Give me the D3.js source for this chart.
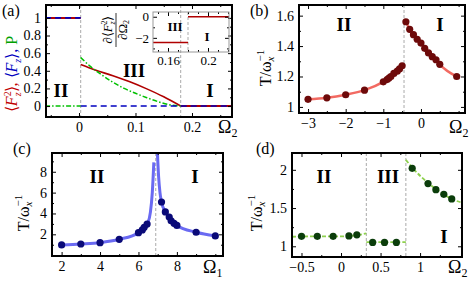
<!DOCTYPE html>
<html>
<head>
<meta charset="utf-8">
<script src="https://cdn.jsdelivr.net/npm/d3@7"></script>
<style>
body { margin: 0; background: #fff; }
</style>
</head>
<body>
<div id="chart-area"></div>
<script>
// ---- panel (a) ----
var aRedX = [0.003, 0.03, 0.06, 0.09, 0.12, 0.15, 0.18];
var aRedY = [0.47, 0.405, 0.345, 0.275, 0.195, 0.105, 0];
var aGreenX = [0.003, 0.02, 0.04, 0.06, 0.08, 0.10, 0.12, 0.14, 0.16, 0.18];
var aGreenY = [0.55, 0.45, 0.355, 0.27, 0.2, 0.145, 0.095, 0.05, 0.015, 0];
var aEdges = [-0.06, 0.003, 0.18, 0.28];   // x where the flat pieces change
var aLevels = [1, 0];
var aBorders = [0.003, 0.18];
var insetRedX = [0.14, 0.18, 0.18, 0.23];
var insetRedY = [-2.45, -2.45, 0, 0];

// ---- panel (b) ----
var bLeftX = [-3, -2.5, -2, -1.5, -1, -0.9, -0.85, -0.8, -0.72, -0.63, -0.57, -0.5];
var bLeftY = [1.05, 1.06, 1.08, 1.11, 1.165, 1.18, 1.19, 1.2, 1.22, 1.235, 1.25, 1.27];
var bRightX = [-0.4, -0.3, -0.2, -0.1, 0, 0.1, 0.2, 0.3, 0.4, 0.5, 0.95];
var bRightY = [1.56, 1.51, 1.475, 1.445, 1.42, 1.385, 1.355, 1.33, 1.31, 1.28, 1.2];
var bBorder = -0.45;

// ---- panel (c) ----
var cLeftX = [2, 3, 4, 5, 6, 6.2, 6.3, 6.45];
var cLeftY = [0.98, 1.07, 1.2, 1.52, 2.16, 2.42, 2.67, 2.99];
var cRightX = [7.2, 7.4, 7.6, 7.7, 7.85, 8, 9, 10];
var cRightY = [5.1, 4.15, 3.65, 3.3, 3.05, 2.85, 2.2, 1.85];
var cLineLeftX = [2, 3, 4, 5, 6, 6.3, 6.5, 6.62, 6.72, 6.8];
var cLineLeftY = [0.98, 1.07, 1.2, 1.52, 2.16, 2.67, 3.15, 4.1, 6, 8.9];
var cLineRightX = [6.97, 7.05, 7.12, 7.2, 7.4, 7.6, 8, 9, 10];
var cLineRightY = [10.5, 7.5, 6.0, 5.1, 4.15, 3.65, 2.85, 2.2, 1.85];
var cBorder = 6.9;

// ---- panel (d) ----
var dIIX = [-0.5, -0.3, -0.1, 0.1, 0.2];
var dIIY = [1.13, 1.13, 1.13, 1.135, 1.15];
var dIIIX = [0.4, 0.55, 0.7];
var dIIIY = [1.05, 1.05, 1.05];
var dIX = [0.9, 1.1, 1.2, 1.3, 1.4];
var dIY = [2.02, 1.82, 1.74, 1.68, 1.62];
var dLineIIX = [-0.62, -0.3, 0, 0.2, 0.32];
var dLineIIY = [1.125, 1.13, 1.13, 1.145, 1.17];
var dLineIIIX = [0.32, 0.82];
var dLineIIIY = [1.055, 1.055];
var dLineIX = [0.82, 0.9, 1.1, 1.2, 1.3, 1.4, 1.53];
var dLineIY = [2.13, 2.03, 1.83, 1.75, 1.68, 1.62, 1.57];
var dBorders = [0.32, 0.82];

var SERIF = "'Liberation Serif', 'Times New Roman', serif";

var svg = d3.select("#chart-area").append("svg")
	.attr("width", 469)
	.attr("height", 281)
	.attr("font-family", SERIF);

var zip = (xs, ys) => xs.map((x, i) => [x, ys[i]]);
var clipId = 0;

function panel(p) {
	var x = d3.scaleLinear().domain(p.xd).range([p.l, p.r]);
	var y = d3.scaleLinear().domain(p.yd).range([p.b, p.t]);
	var g = svg.append("g");
	clipId++;
	g.append("clipPath").attr("id", "clip" + clipId)
		.append("rect").attr("x", p.l).attr("y", p.t)
		.attr("width", p.r - p.l).attr("height", p.b - p.t);
	var plot = g.append("g").attr("clip-path", "url(#clip" + clipId + ")");

	var fs = p.fs || 14;
	function ax(gen, scale, vals, size, fmt, tr) {
		var a = g.append("g").attr("transform", tr)
			.call(gen(scale).tickValues(vals).tickSizeInner(-size).tickSizeOuter(0)
				.tickPadding(p.pad || 4).tickFormat(fmt));
		a.attr("font-family", SERIF);
		a.select(".domain").remove();
		a.selectAll("line").attr("stroke", "#000").attr("stroke-width", 1);
		a.selectAll("text").attr("font-size", fs).attr("fill", "#000");
		return a;
	}
	var none = () => "";
	ax(d3.axisBottom, x, p.xt, 4, p.xf, "translate(0," + p.b + ")");
	ax(d3.axisBottom, x, p.xm, 2, none, "translate(0," + p.b + ")");
	ax(d3.axisTop, x, p.xt, 4, none, "translate(0," + p.t + ")");
	ax(d3.axisTop, x, p.xm, 2, none, "translate(0," + p.t + ")");
	ax(d3.axisLeft, y, p.yt, 4, p.yf, "translate(" + p.l + ",0)");
	ax(d3.axisLeft, y, p.ym, 2, none, "translate(" + p.l + ",0)");
	ax(d3.axisRight, y, p.yt, 4, none, "translate(" + p.r + ",0)");
	ax(d3.axisRight, y, p.ym, 2, none, "translate(" + p.r + ",0)");
	g.append("rect").attr("class", "frame").attr("x", p.l).attr("y", p.t)
		.attr("width", p.r - p.l).attr("height", p.b - p.t)
		.attr("fill", "none").attr("stroke", p.stroke || "#000").attr("stroke-width", p.sw || 2);
	return {x: x, y: y, g: g, plot: plot};
}

function vborder(P, v, t, b) {
	P.plot.append("line")
		.attr("x1", P.x(v)).attr("x2", P.x(v))
		.attr("y1", t).attr("y2", b)
		.attr("stroke", "#aaa").attr("stroke-width", 1).attr("stroke-dasharray", "3,2");
}

function curve(P, pts, color, width, dash, smooth) {
	P.plot.append("path").datum(pts)
		.attr("d", d3.line().x(d => P.x(d[0])).y(d => P.y(d[1]))
			.curve(smooth ? d3.curveMonotoneX : d3.curveLinear))
		.attr("fill", "none").attr("stroke", color).attr("stroke-width", width)
		.attr("stroke-dasharray", dash || null);
}

function dots(P, pts, color, r) {
	P.plot.selectAll(null).data(pts).enter().append("circle")
		.attr("cx", d => P.x(d[0])).attr("cy", d => P.y(d[1]))
		.attr("r", r).attr("fill", color);
}

function label(txt, x, y, size, weight, anchor) {
	return svg.append("text").attr("x", x).attr("y", y)
		.attr("font-size", size).attr("font-weight", weight || "normal")
		.attr("text-anchor", anchor || "middle").text(txt);
}

function omega(x, y, sub) {
	var t = svg.append("text").attr("x", x).attr("y", y).attr("font-size", 18);
	t.append("tspan").text("Ω");
	t.append("tspan").attr("font-size", 12).attr("dy", 4).text(sub);
}

function tLabel(x, y) {
	var t = svg.append("text")
		.attr("transform", "translate(" + x + "," + y + ") rotate(-90)")
		.attr("text-anchor", "middle").attr("font-size", 16);
	t.append("tspan").text("T/ω");
	t.append("tspan").attr("font-size", 11).attr("font-style", "italic").attr("dy", 3).text("x");
	t.append("tspan").attr("font-size", 11).attr("dy", -10).attr("dx", -5).text("−1");
}

var fmt = d3.format("~g");

// ================= (a) =================
var A = panel({l: 46, r: 232, t: 5, b: 117, xd: [-0.0584, 0.2708], yd: [-0.124, 1.146],
	xt: [0, 0.1, 0.2], xm: [-0.05, 0.05, 0.15, 0.25], xf: fmt,
	yt: [0, 0.2, 0.4, 0.6, 0.8, 1], ym: [0.1, 0.3, 0.5, 0.7, 0.9], yf: fmt, pad: 5});
aBorders.forEach(v => vborder(A, v, 5, 117));
var aRed = zip(aRedX, aRedY);
var aGreen = zip(aGreenX, aGreenY);
curve(A, [[aEdges[2], aLevels[1]], [aEdges[3], aLevels[1]]], "#b00000", 2);
curve(A, [[aEdges[0], aLevels[0]], [aEdges[1], aLevels[0]]], "#b00000", 2);
curve(A, aRed, "#b00000", 1.6, null, true);
curve(A, [[aEdges[0], aLevels[1]], [aEdges[1], aLevels[1]]], "#00c000", 1.5, "5,2,1.5,2");
curve(A, aGreen, "#00c000", 1.5, "5,2,1.5,2", true);
curve(A, [[aEdges[0], aLevels[0]], [aEdges[1], aLevels[0]]], "#0000c0", 1.6, "6,4");
curve(A, [[aEdges[1], aLevels[1]], [aEdges[3], aLevels[1]]], "#0000c0", 1.6, "6,4");

// inset
var In = panel({l: 153, r: 229, t: 12, b: 52, xd: [0.145, 0.221], yd: [-3.34, 0.45],
	xt: [0.16, 0.2], xm: [0.15, 0.17, 0.18, 0.19, 0.21, 0.22], xf: d3.format(".2~f"),
	yt: [-2, 0], ym: [-3, -1], yf: fmt, fs: 13, sw: 1, pad: 4, stroke: "#999"});
vborder(In, 0.18, 12, 52);
curve(In, zip(insetRedX.slice(0, 2), insetRedY.slice(0, 2)), "#b00000", 1.5);
curve(In, zip(insetRedX.slice(2), insetRedY.slice(2)), "#b00000", 1.5);
label("III", 175, 31, 13, "bold");
label("I", 207, 41, 13, "bold");
// inset y label: d<F_z^2>/dOmega_2
var fr = svg.append("g").attr("transform", "translate(116,30) rotate(-90)");
var num = fr.append("text").attr("y", -4).attr("text-anchor", "middle").attr("font-size", 13);
num.append("tspan").text("∂⟨");
num.append("tspan").attr("font-style", "italic").text("F");
num.append("tspan").attr("font-size", 8).attr("dy", -5).text("2");
num.append("tspan").attr("font-size", 8).attr("dy", 8).attr("dx", -4).attr("font-style", "italic").text("z");
num.append("tspan").attr("dy", -3).text("⟩");
fr.append("line").attr("x1", -17).attr("x2", 17).attr("y1", 0).attr("y2", 0)
	.attr("stroke", "#000").attr("stroke-width", 0.8);
var den = fr.append("text").attr("y", 11).attr("text-anchor", "middle").attr("font-size", 13);
den.append("tspan").text("∂Ω");
den.append("tspan").attr("font-size", 8).attr("dy", 2).text("2");

label("II", 61, 97, 19, "bold");
label("III", 134, 77, 19, "bold");
label("I", 210, 97, 19, "bold");
label("(a)", 2, 16, 16, "normal", "start");
omega(218, 133, "2");
// y label of (a)
var ya = svg.append("text").attr("transform", "translate(17,74) rotate(-90)")
	.attr("text-anchor", "middle").attr("font-size", 16);
ya.append("tspan").attr("fill", "#c00000").text("⟨");
ya.append("tspan").attr("fill", "#c00000").attr("font-style", "italic").text("F");
ya.append("tspan").attr("fill", "#c00000").attr("font-size", 10).attr("dy", -6).text("2");
ya.append("tspan").attr("fill", "#c00000").attr("font-size", 10).attr("font-style", "italic").attr("dx", -5).attr("dy", 10).text("z");
ya.append("tspan").attr("fill", "#c00000").attr("dy", -4).text("⟩, ");
ya.append("tspan").attr("fill", "#0000c0").text("⟨");
ya.append("tspan").attr("fill", "#0000c0").attr("font-style", "italic").text("F");
ya.append("tspan").attr("fill", "#0000c0").attr("font-size", 10).attr("font-style", "italic").attr("dy", 4).text("z");
ya.append("tspan").attr("fill", "#0000c0").attr("dy", -4).text("⟩, ");
ya.append("tspan").attr("fill", "#00a000").text("P");

// ================= (b) =================
var B = panel({l: 299, r: 465, t: 5, b: 113, xd: [-3.24, 1.17], yd: [0.96, 1.67],
	xt: [-3, -2, -1, 0], xm: [-2.5, -1.5, -0.5, 0.5, 1], xf: fmt,
	yt: [1, 1.2, 1.4, 1.6], ym: [1.1, 1.3, 1.5], yf: fmt, pad: 5});
vborder(B, bBorder, 5, 113);
var bL = zip(bLeftX, bLeftY), bR = zip(bRightX, bRightY);
curve(B, bL, "#f26a62", 2.5, null, true);
curve(B, bR, "#f26a62", 2.5, null, true);
dots(B, bL, "#6e0a0a", 3.6);
dots(B, bR, "#6e0a0a", 3.6);
label("II", 344, 31, 19, "bold");
label("I", 440, 31, 19, "bold");
label("(b)", 250, 16, 16, "normal", "start");
omega(449, 133, "2");
tLabel(271, 68);

// ================= (c) =================
var C = panel({l: 52, r: 223, t: 153, b: 256, xd: [1.5, 10.4], yd: [-0.08, 9.8],
	xt: [2, 4, 6, 8], xm: [3, 5, 7, 9, 10], xf: fmt,
	yt: [2, 4, 6, 8], ym: [1, 3, 5, 7, 9], yf: fmt, pad: 5});
vborder(C, cBorder, 153, 256);
curve(C, zip(cLineLeftX, cLineLeftY), "#6a6af2", 3, null, true);
curve(C, zip(cLineRightX, cLineRightY), "#6a6af2", 3, null, true);
dots(C, zip(cLeftX, cLeftY), "#0a0a78", 3.6);
dots(C, zip(cRightX, cRightY), "#0a0a78", 3.6);
label("II", 97, 183, 19, "bold");
label("I", 195, 183, 19, "bold");
label("(c)", 13, 154, 16, "normal", "start");
omega(203, 273, "1");
tLabel(29, 213);

// ================= (d) =================
var D = panel({l: 292, r: 462, t: 153, b: 257, xd: [-0.62, 1.53], yd: [0.86, 2.22],
	xt: [-0.5, 0, 0.5, 1], xm: [-0.25, 0.25, 0.75, 1.25], xf: fmt,
	yt: [1, 1.5, 2], ym: [1.25, 1.75], yf: fmt, pad: 5});
dBorders.forEach(v => vborder(D, v, 153, 257));
curve(D, zip(dLineIIX, dLineIIY), "#8fd14f", 1.8, "4,2", true);
curve(D, zip(dLineIIIX, dLineIIIY), "#8fd14f", 1.8, "4,2");
curve(D, zip(dLineIX, dLineIY), "#8fd14f", 1.8, "4,2", true);
dots(D, zip(dIIX, dIIY), "#0b3d0b", 3.6);
dots(D, zip(dIIIX, dIIIY), "#0b3d0b", 3.6);
dots(D, zip(dIX, dIY), "#0b3d0b", 3.6);
label("II", 324, 183, 19, "bold");
label("III", 388, 183, 19, "bold");
label("I", 444, 243, 19, "bold");
label("(d)", 256, 154, 16, "normal", "start");
omega(448, 273, "2");
tLabel(262, 213);
</script>
</body>
</html>
